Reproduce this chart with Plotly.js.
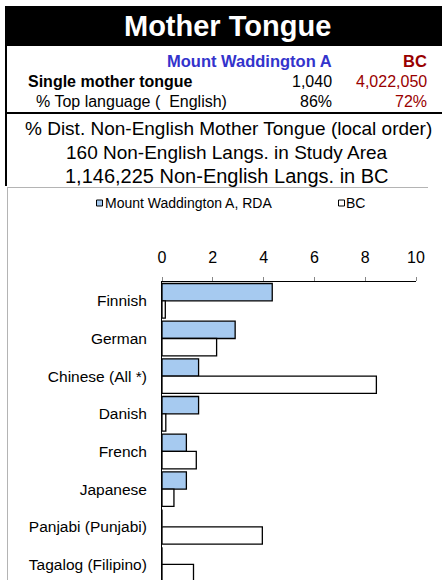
<!DOCTYPE html>
<html>
<head>
<meta charset="utf-8">
<script src="https://cdn.plot.ly/plotly-3.0.1.min.js"></script>
<style>
html,body{margin:0;padding:0;background:#fff;overflow:hidden;}
#chart{width:442px;height:580px;}
</style>
</head>
<body>
<div id="chart"></div>
<script>
// ---- data ----
var categories = ["Finnish", "German", "Chinese (All *)", "Danish", "French", "Japanese", "Panjabi (Punjabi)", "Tagalog (Filipino)"];
var localValues = [4.34, 2.88, 1.44, 1.44, 0.96, 0.96, 0, 0];
var bcValues = [0.13, 2.15, 8.44, 0.15, 1.35, 0.47, 3.95, 1.24];
var seriesNames = ["Mount Waddington A, RDA", "BC"];
var xTicks = [0, 2, 4, 6, 8, 10];

var headerTitle = "Mother Tongue";
var colHeaders = ["Mount Waddington A", "BC"];
var rowSingle = ["Single mother tongue", "1,040", "4,022,050"];
var rowTop = ["% Top language (  English)", "86%", "72%"];
var subLines = ["% Dist. Non-English Mother Tongue (local order)", "160 Non-English Langs. in Study Area", "1,146,225 Non-English Langs. in BC"];

// ---- geometry helpers (pixel -> paper) ----
var W = 442, H = 580;
var ML = 162, MR = 26, MT = 282, MB = 0;
var PW = W - ML - MR, PH = H - MT - MB;
function px(x){ return (x - ML) / PW; }
function py(y){ return (H - MB - y) / PH; }

var FONT = "Liberation Sans, Arial, Helvetica, sans-serif";
var BLUE = "#A6CAF0";
var RED = "#990000";
var NAVY = "#3333CC";

var traces = [
  {type: "bar", orientation: "h", name: seriesNames[0], y: categories, x: localValues,
   marker: {color: BLUE, line: {color: "#000", width: 1.3}}},
  {type: "bar", orientation: "h", name: seriesNames[1], y: categories, x: bcValues,
   marker: {color: "#FFFFFF", line: {color: "#000", width: 1.3}}}
];

function ann(text, x, y, opts){
  var a = {text: text, x: px(x), y: py(y), xref: "paper", yref: "paper", showarrow: false,
    xanchor: "center", yanchor: "middle", borderpad: 0,
    font: {family: FONT, size: 15, color: "#000"}};
  for (var k in opts){
    if (k === "font"){ for (var f in opts.font) a.font[f] = opts.font[f]; }
    else a[k] = opts[k];
  }
  return a;
}

var annotations = [
  ann("<b>" + headerTitle + "</b>", 227, 26, {font: {size: 29, color: "#fff"}}),
  ann("<b>" + colHeaders[0] + "</b>", 333, 61, {xanchor: "right", font: {size: 16.5, color: NAVY}}),
  ann("<b>" + colHeaders[1] + "</b>", 428, 61, {xanchor: "right", font: {size: 16.5, color: RED}}),
  ann("<b>" + rowSingle[0] + "</b>", 27, 81.5, {xanchor: "left", font: {size: 16}}),
  ann(rowSingle[1], 333, 81.5, {xanchor: "right", font: {size: 16}}),
  ann(rowSingle[2], 428, 81.5, {xanchor: "right", font: {size: 16, color: RED}}),
  ann(rowTop[0], 35, 101.5, {xanchor: "left", font: {size: 16}}),
  ann(rowTop[1], 333, 101.5, {xanchor: "right", font: {size: 16}}),
  ann(rowTop[2], 428, 101.5, {xanchor: "right", font: {size: 16, color: RED}}),
  ann(subLines[0], 228, 128, {font: {size: 19}}),
  ann(subLines[1], 227, 152, {font: {size: 19}}),
  ann(subLines[2], 227, 176, {font: {size: 20}}),
  ann(seriesNames[0], 104, 203, {xanchor: "left", font: {size: 14}}),
  ann(seriesNames[1], 345, 203, {xanchor: "left", font: {size: 14}})
];

var shapes = [
  {type: "rect", xref: "paper", yref: "paper", x0: px(5), x1: px(442), y0: py(6), y1: py(46),
   fillcolor: "#000", line: {width: 0}},
  {type: "line", xref: "paper", yref: "paper", x0: px(6), x1: px(6), y0: py(46), y1: py(186),
   line: {color: "#000", width: 2}},
  {type: "line", xref: "paper", yref: "paper", x0: px(6), x1: px(442), y0: py(113), y1: py(113),
   line: {color: "#000", width: 2}},
  {type: "line", xref: "paper", yref: "paper", x0: px(7), x1: px(428), y0: py(187.5), y1: py(187.5),
   line: {color: "#b4b4b4", width: 1}},
  {type: "line", xref: "paper", yref: "paper", x0: px(7.5), x1: px(7.5), y0: py(187.5), y1: py(580),
   line: {color: "#b4b4b4", width: 1}},
  {type: "rect", xref: "paper", yref: "paper", x0: px(96.5), x1: px(102.5), y0: py(200), y1: py(206),
   fillcolor: BLUE, line: {color: "#000", width: 1}},
  {type: "rect", xref: "paper", yref: "paper", x0: px(338.5), x1: px(344.5), y0: py(200), y1: py(206),
   fillcolor: "#fff", line: {color: "#000", width: 1}}
];

var layout = {
  width: W, height: H,
  margin: {l: ML, r: MR, t: MT, b: MB, pad: 0},
  paper_bgcolor: "#fff", plot_bgcolor: "#fff",
  font: {family: FONT, color: "#000"},
  showlegend: false,
  barmode: "group", bargap: 0.08, bargroupgap: 0,
  xaxis: {side: "top", range: [0, 10], tickvals: xTicks, ticktext: xTicks.map(String),
    showgrid: false, zeroline: false, showline: true, linecolor: "#000", linewidth: 1,
    ticks: "outside", ticklen: 4, tickcolor: "#888", tickwidth: 1,
    tickfont: {family: FONT, size: 16, color: "#000"}, ticklabelstandoff: 8, fixedrange: true},
  yaxis: {type: "category", range: [-0.5 + PH / 37.66, -0.5],
    showgrid: false, zeroline: false, showline: true, linecolor: "#000", linewidth: 1,
    ticks: "", tickfont: {family: FONT, size: 15.5, color: "#000"}, ticklabelstandoff: 11, fixedrange: true},
  annotations: annotations,
  shapes: shapes
};

Plotly.newPlot("chart", traces, layout, {displayModeBar: false, staticPlot: true});
</script>
</body>
</html>
